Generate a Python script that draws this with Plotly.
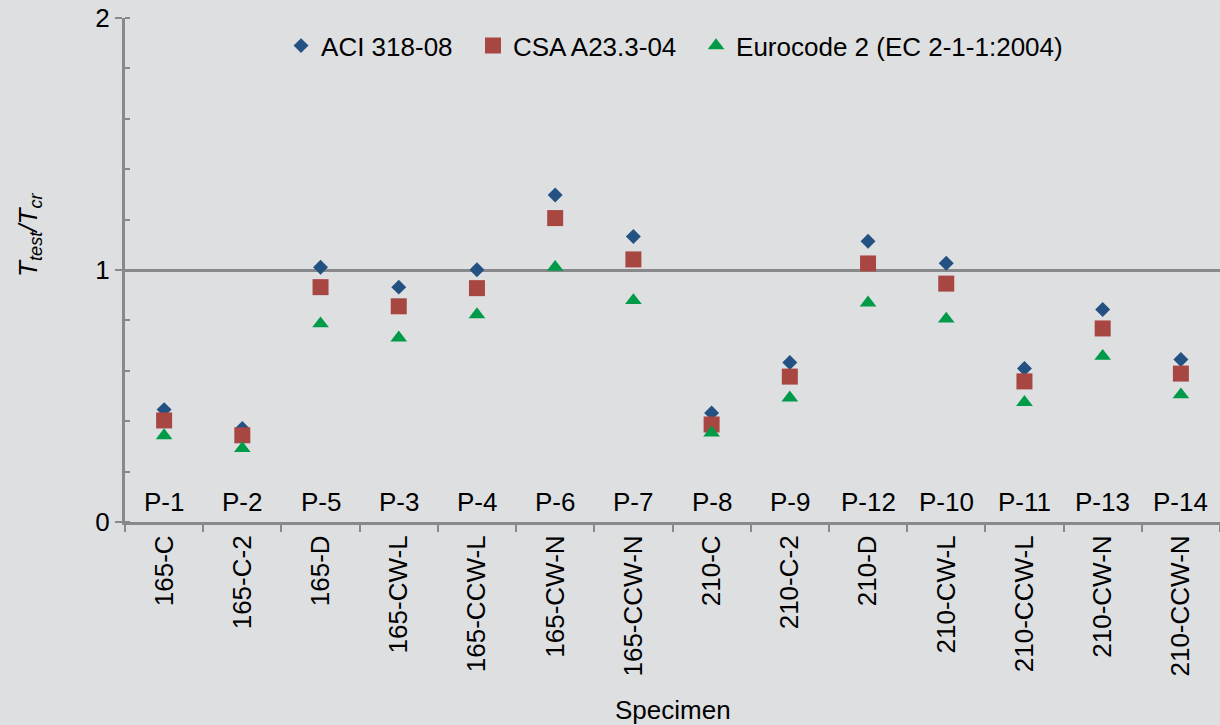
import plotly.graph_objects as go

specimens = ["165-C", "165-C-2", "165-D", "165-CW-L", "165-CCW-L", "165-CW-N", "165-CCW-N",
             "210-C", "210-C-2", "210-D", "210-CW-L", "210-CCW-L", "210-CW-N", "210-CCW-N"]
p_labels = ["P-1", "P-2", "P-5", "P-3", "P-4", "P-6", "P-7",
            "P-8", "P-9", "P-12", "P-10", "P-11", "P-13", "P-14"]
aci = [0.446, 0.371, 1.011, 0.932, 1.001, 1.298, 1.133, 0.433, 0.633, 1.114, 1.027, 0.609, 0.843, 0.645]
csa = [0.403, 0.344, 0.932, 0.856, 0.928, 1.206, 1.042, 0.387, 0.577, 1.026, 0.946, 0.558, 0.768, 0.589]
ec2 = [0.343, 0.292, 0.787, 0.731, 0.823, 1.011, 0.879, 0.354, 0.493, 0.870, 0.806, 0.475, 0.658, 0.505]
p_label_level = 0.081

FONT = "Liberation Sans, Arial, sans-serif"
FS = 26
BG = "#dedfe1"
GRID = "#87898b"

fig = go.Figure()
fig.add_trace(go.Scatter(x=specimens, y=aci, mode="markers", name="ACI 318-08", legend="legend",
                         marker=dict(symbol="diamond", size=11.5, color="#235282")))
fig.add_trace(go.Scatter(x=specimens, y=csa, mode="markers", name="CSA A23.3-04", legend="legend2",
                         marker=dict(symbol="square", size=16, color="#a84642")))
fig.add_trace(go.Scatter(x=specimens, y=ec2, mode="markers", name="Eurocode 2 (EC 2-1-1:2004)",
                         legend="legend3",
                         marker=dict(symbol="triangle-up", size=14.5, color="#009b48")))

for s, p in zip(specimens, p_labels):
    fig.add_annotation(x=s, y=p_label_level, xref="x", yref="y", text=p, showarrow=False,
                       font=dict(family=FONT, size=FS, color="#000000"),
                       xanchor="center", yanchor="middle")

fig.add_annotation(xref="paper", yref="paper", x=-0.0868, y=0.5695,
                   text="<i>T</i><sub><i>test</i></sub><i>/T</i><sub><i>cr</i></sub>",
                   textangle=-90, showarrow=False,
                   font=dict(family=FONT, size=FS, color="#000000"),
                   xanchor="center", yanchor="middle")
fig.add_annotation(xref="paper", yref="paper", x=0.5, y=-0.3727, text="Specimen",
                   showarrow=False, font=dict(family=FONT, size=FS, color="#000000"),
                   xanchor="center", yanchor="middle")

leg_common = dict(orientation="h", xanchor="left", y=0.945, yanchor="middle",
                  bgcolor="rgba(0,0,0,0)", font=dict(family=FONT, size=FS, color="#000000"),
                  itemwidth=30)

fig.update_layout(
    width=1220, height=725,
    margin=dict(l=125, r=0, t=18, b=203),
    paper_bgcolor=BG, plot_bgcolor=BG,
    font=dict(family=FONT, size=FS, color="#000000"),
    showlegend=True,
    legend=dict(x=0.1425, **leg_common),
    legend2=dict(x=0.3178, **leg_common),
    legend3=dict(x=0.5215, **leg_common),
    xaxis=dict(type="category", tickson="boundaries", ticks="outside", ticklen=7,
               tickwidth=2, tickcolor=GRID, showline=True, linecolor=GRID, linewidth=3,
               showgrid=False, tickangle=-90, zeroline=False,
               tickfont=dict(family=FONT, size=FS, color="#000000"),
               range=[-0.5, 13.5]),
    yaxis=dict(range=[0, 2], tickvals=[0, 1, 2], ticktext=["0", "1", "2"],
               ticks="outside", ticklen=7, tickwidth=2, tickcolor=GRID,
               showline=True, linecolor=GRID, linewidth=3,
               showgrid=True, gridcolor=GRID, gridwidth=2.5, zeroline=False,
               tickfont=dict(family=FONT, size=FS, color="#000000"),
               minor=dict(dtick=0.2, tick0=0, ticks="inside", ticklen=5, tickwidth=2,
                          tickcolor=GRID, showgrid=False)),
)

fig.write_html("out.html")
